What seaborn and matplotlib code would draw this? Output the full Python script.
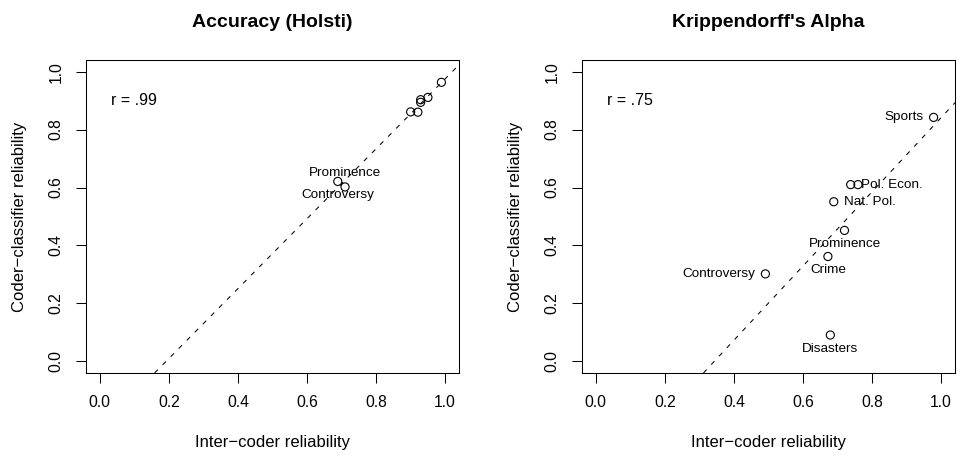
import numpy as np
import pandas as pd
import matplotlib
matplotlib.use("Agg")
import matplotlib.pyplot as plt
import seaborn as sns

# Accuracy (Holsti) panel
holsti_labels = [None, None, None, None, None, None, "Controversy", "Prominence"]
holsti_inter = [0.989, 0.950, 0.929, 0.929, 0.900, 0.921, 0.689, 0.710]
holsti_classifier = [0.963, 0.911, 0.903, 0.894, 0.861, 0.860, 0.621, 0.602]
holsti_pos = [None, None, None, None, None, None, "below", "above"]

# Krippendorff's Alpha panel
alpha_labels = ["Sports", "Pol. Econ.", None, "Nat. Pol.", "Prominence",
                "Crime", "Controversy", "Disasters"]
alpha_inter = [0.978, 0.738, 0.759, 0.689, 0.720, 0.672, 0.491, 0.679]
alpha_classifier = [0.842, 0.610, 0.610, 0.551, 0.452, 0.362, 0.302, 0.091]
alpha_pos = ["left", "right", None, "right", "below", "below", "left", "below"]

titles = ["Accuracy (Holsti)", "Krippendorff's Alpha"]
r_texts = ["r = .99", "r = .75"]
ticks = [0.0, 0.2, 0.4, 0.6, 0.8, 1.0]
tick_labels = ["0.0", "0.2", "0.4", "0.6", "0.8", "1.0"]

sns.set_style("ticks")
plt.rcParams["font.family"] = ["Liberation Sans", "DejaVu Sans"]
plt.rcParams["axes.linewidth"] = 0.75
plt.rcParams["text.color"] = "black"
plt.rcParams["axes.labelcolor"] = "black"
plt.rcParams["axes.titlecolor"] = "black"

W, H = 957, 455
fig = plt.figure(figsize=(W / 100, H / 100), dpi=100)
axes = [
    fig.add_axes([86 / W, 1 - 373 / H, 373 / W, 313 / H]),
    fig.add_axes([582 / W, 1 - 373 / H, 373 / W, 313 / H]),
]

offsets = {
    "left": ((-7.5, 0), "right", "center"),
    "right": ((7.5, 0), "left", "center"),
    "above": ((0, 10), "center", "center"),
    "below": ((0, -10), "center", "center"),
}

panels = [
    (holsti_labels, holsti_inter, holsti_classifier, holsti_pos),
    (alpha_labels, alpha_inter, alpha_classifier, alpha_pos),
]

for ax, (labels, xs, ys, pos), title, rtxt in zip(axes, panels, titles, r_texts):
    df = pd.DataFrame({"inter": xs, "classifier": ys})
    sns.scatterplot(data=df, x="inter", y="classifier", ax=ax,
                    marker="o", s=34, facecolor="none", edgecolor="black",
                    linewidth=0.8, zorder=3)

    # least squares fit, drawn across the panel
    slope, intercept = np.polyfit(df["inter"], df["classifier"], 1)
    ax.axline((0, intercept), slope=slope, color="black", lw=0.75,
              linestyle=(0, (4.5, 6.5)), zorder=2)

    for lab, x, y, p in zip(labels, xs, ys, pos):
        if lab is None:
            continue
        off, ha, va = offsets[p]
        ax.annotate(lab, (x, y), xytext=off, textcoords="offset points",
                    ha=ha, va=va, fontsize=9.7, color="black")

    ax.text(0.1, 0.9, rtxt, ha="center", va="center", fontsize=11.5,
            color="black")

    ax.set_xlim(-0.04, 1.04)
    ax.set_ylim(-0.04, 1.04)
    ax.set_xticks(ticks)
    ax.set_xticklabels(tick_labels)
    ax.set_yticks(ticks)
    ax.set_yticklabels(tick_labels, rotation=90, va="center")
    ax.tick_params(direction="out", length=7, width=0.75, pad=9,
                   labelsize=11.3, color="black", labelcolor="black")
    for sp in ax.spines.values():
        sp.set_visible(True)
        sp.set_color("black")
        sp.set_linewidth(0.75)

    ax.set_xlabel("Inter\u2212coder reliability", fontsize=12, labelpad=17.5,
                  color="black")
    ax.set_ylabel("Coder\u2212classifier reliability", fontsize=12,
                  labelpad=15.5, color="black")
    ax.set_title(title, fontsize=14, fontweight="bold", pad=24, color="black")

fig.savefig("out.png", dpi=100, facecolor="white")
